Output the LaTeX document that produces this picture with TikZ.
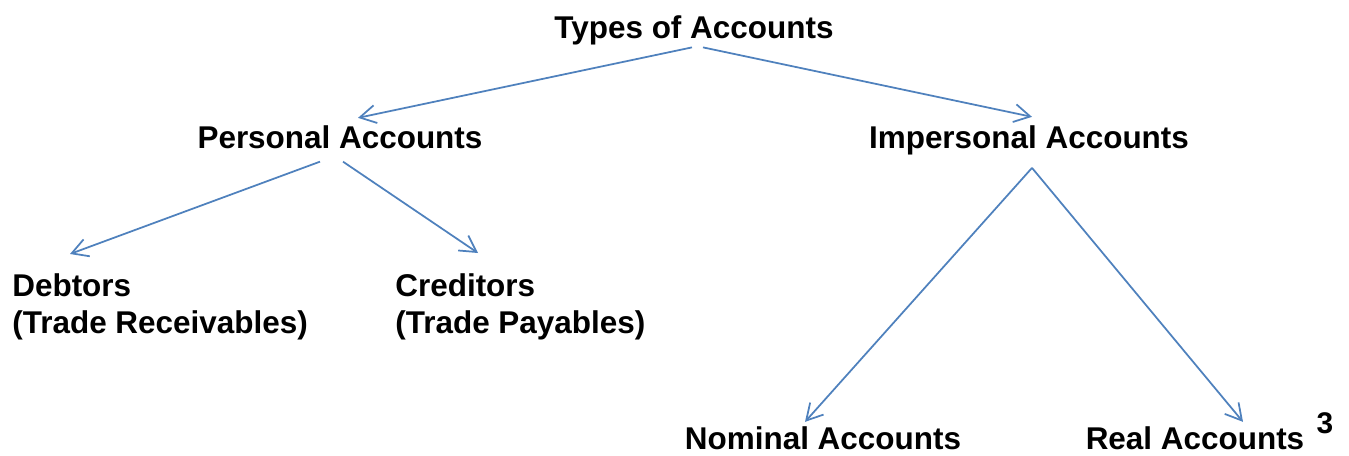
\documentclass[tikz,border=0pt]{standalone}
\usepackage{fontspec}
\setmainfont{Liberation Sans}
\usetikzlibrary{arrows.meta}
\definecolor{arrowblue}{RGB}{79,129,189}
\begin{document}
\begin{tikzpicture}[acc/.style={inner sep=0pt,font=\fontsize{17.9}{21.5}\selectfont\bfseries},
    arr/.style={draw=arrowblue,line width=1pt,-{Straight Barb[length=3.2mm,width=3.6mm]}}]
        \useasboundingbox (0,0) rectangle (26.98,-9.12);
        \node[acc,anchor=base] (types) at (13.88,-0.76) {Types of Accounts};
        \node[acc,anchor=base] (pers) at (6.80,-2.96) {Personal Accounts};
        \node[acc,anchor=base] (imp) at (20.58,-2.96) {Impersonal Accounts};
        \node[acc,anchor=north west,align=left] (deb) at (0.24,-5.46) {Debtors\\(Trade Receivables)};
        \node[acc,anchor=north west,align=left] (cred) at (7.90,-5.46) {Creditors\\(Trade Payables)};
        \node[acc,anchor=base] (nom) at (16.46,-8.98) {Nominal Accounts};
        \node[acc,anchor=base] (real) at (23.90,-8.98) {Real Accounts};
        \node[acc,anchor=base,font=\fontsize{17}{20}\selectfont\bfseries] (pg) at (26.50,-8.66) {3};
        \draw[arr] ([xshift=-0.04cm,yshift=-0.05cm]types.south) -- ([xshift=0.36cm,yshift=0.14cm]pers.north);
        \draw[arr] ([xshift=0.18cm,yshift=-0.05cm]types.south) -- ([xshift=0.06cm,yshift=0.16cm]imp.north);
        \draw[arr] ([xshift=-0.40cm,yshift=-0.26cm]pers.south) -- ([xshift=1.16cm,yshift=0.38cm]deb.north west);
        \draw[arr] ([xshift=0.06cm,yshift=-0.26cm]pers.south) -- ([xshift=1.66cm,yshift=0.40cm]cred.north west);
        \draw[arr] ([xshift=0.06cm,yshift=-0.26cm]imp.south) -- ([xshift=-0.36cm,yshift=0.08cm]nom.north);
        \draw[arr] ([xshift=0.06cm,yshift=-0.26cm]imp.south) -- ([xshift=0.96cm,yshift=0.08cm]real.north);
      \end{tikzpicture}
\end{document}
